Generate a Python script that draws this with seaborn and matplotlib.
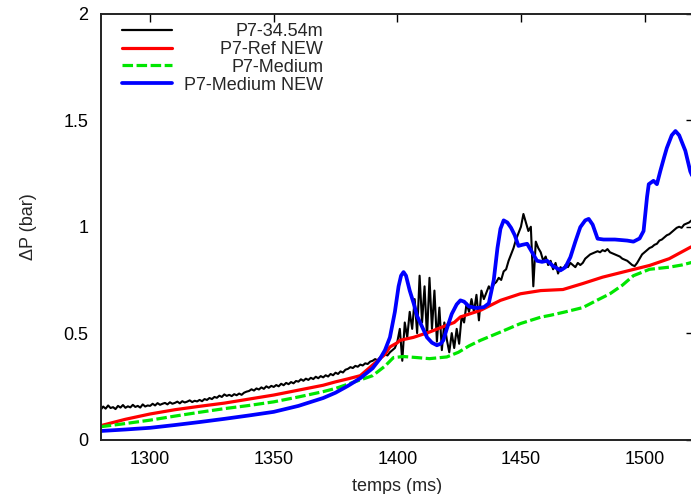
import numpy as np
import pandas as pd
import matplotlib
matplotlib.use("Agg")
import matplotlib.pyplot as plt
import seaborn as sns

# P7-34.54m (measured, 1 ms steps from 1280 to 1520)
black_t = np.arange(1280, 1521)
black_v = [
    0.14, 0.155, 0.145, 0.16, 0.148, 0.152, 0.143, 0.158, 0.15, 0.162,
    0.149, 0.156, 0.151, 0.163, 0.153, 0.158, 0.15, 0.165, 0.155, 0.16,
    0.158, 0.168, 0.16, 0.171, 0.163, 0.168, 0.172, 0.165, 0.175, 0.168,
    0.172, 0.178, 0.17, 0.18, 0.174, 0.178, 0.184, 0.176, 0.182, 0.179,
    0.186, 0.18, 0.19, 0.186, 0.195, 0.19, 0.2, 0.196, 0.206, 0.2,
    0.212, 0.205, 0.21, 0.204, 0.213, 0.208, 0.216, 0.21, 0.22, 0.225,
    0.228, 0.236, 0.23, 0.24, 0.235, 0.245, 0.238, 0.25, 0.243, 0.252,
    0.247, 0.256, 0.25, 0.262, 0.255, 0.266, 0.26, 0.27, 0.264, 0.275,
    0.272, 0.283, 0.276, 0.286, 0.28, 0.29, 0.284, 0.295, 0.288, 0.298,
    0.292, 0.302, 0.296, 0.308, 0.302, 0.314, 0.308, 0.32, 0.315, 0.328,
    0.332, 0.34, 0.336, 0.346, 0.342, 0.352, 0.348, 0.358, 0.355, 0.366,
    0.37, 0.378, 0.372, 0.386, 0.39, 0.4, 0.395, 0.41, 0.42, 0.43,
    0.46, 0.52, 0.37, 0.55, 0.48, 0.6, 0.52, 0.66, 0.5, 0.77,
    0.55, 0.72, 0.48, 0.76, 0.52, 0.7, 0.46, 0.62, 0.42, 0.55,
    0.47, 0.41, 0.5, 0.43, 0.52, 0.45, 0.58, 0.55, 0.64, 0.6,
    0.66, 0.6, 0.68, 0.56, 0.7, 0.66, 0.69, 0.72, 0.7, 0.73,
    0.74, 0.76, 0.75, 0.79, 0.8, 0.84, 0.87, 0.9, 0.94, 0.97,
    1.0, 1.06, 1.02, 0.98, 1.0, 0.72, 0.93, 0.9, 0.88, 0.84,
    0.86, 0.82, 0.84, 0.8, 0.83, 0.78, 0.81, 0.8, 0.82, 0.81,
    0.83, 0.82, 0.81, 0.83, 0.82, 0.83, 0.85, 0.86, 0.87, 0.875,
    0.88, 0.885, 0.88, 0.89, 0.885, 0.895, 0.88, 0.875, 0.87, 0.865,
    0.86, 0.85, 0.845, 0.84, 0.83, 0.82, 0.815, 0.83, 0.85, 0.87,
    0.88, 0.89, 0.9, 0.905, 0.915, 0.92, 0.935, 0.94, 0.95, 0.96,
    0.965, 0.975, 0.985, 0.995, 1.0, 0.995, 1.01, 1.015, 1.02, 1.03,
    1.035,
]

# P7-Ref NEW
red_t = [1280, 1290, 1300, 1310, 1320, 1330, 1340, 1350, 1360, 1370, 1375,
         1380, 1385, 1390, 1395, 1397, 1400, 1401, 1406.5, 1413, 1420, 1423,
         1425.5, 1433.6, 1441.7, 1449.8, 1458, 1467, 1475, 1483, 1494, 1502,
         1510, 1518.6, 1520]
red_v = [0.065, 0.095, 0.12, 0.14, 0.156, 0.171, 0.19, 0.209, 0.232, 0.255,
         0.271, 0.285, 0.30, 0.35, 0.40, 0.435, 0.455, 0.466, 0.48, 0.505,
         0.537, 0.55, 0.576, 0.607, 0.654, 0.685, 0.70, 0.705, 0.733, 0.763,
         0.795, 0.818, 0.85, 0.904, 0.91]

# P7-Medium
green_t = [1280, 1290, 1300, 1310, 1320, 1330, 1340, 1350, 1360, 1370, 1375,
           1380, 1385, 1390, 1395, 1398.4, 1402.5, 1408, 1413, 1420, 1424.7,
           1429, 1433.6, 1441.7, 1449.8, 1458, 1462, 1468, 1475, 1480, 1486,
           1491, 1495.5, 1502, 1510, 1515, 1520]
green_v = [0.06, 0.075, 0.091, 0.11, 0.128, 0.145, 0.16, 0.177, 0.2, 0.225,
           0.24, 0.26, 0.28, 0.30, 0.345, 0.385, 0.39, 0.385, 0.38, 0.388,
           0.41, 0.44, 0.466, 0.505, 0.545, 0.575, 0.584, 0.6, 0.62, 0.65,
           0.685, 0.725, 0.77, 0.80, 0.81, 0.82, 0.835]

# P7-Medium NEW
blue_t = [1280, 1290, 1300, 1310, 1320, 1330, 1340, 1350, 1360, 1370, 1375,
          1380, 1385, 1390, 1393, 1395, 1397, 1399, 1400.5, 1401.5, 1402.5,
          1403.5, 1405, 1406.6, 1408, 1410, 1412, 1414, 1416, 1417.5, 1418.6,
          1420, 1422, 1424, 1425.5, 1427, 1429, 1432, 1435, 1437, 1439,
          1440.5, 1441.7, 1443, 1444.5, 1446, 1447.5, 1449, 1450.5, 1452.5,
          1454.5, 1456.5, 1458.5, 1460.6, 1463, 1466, 1468, 1470, 1472, 1474,
          1476, 1477.4, 1479, 1481, 1483.4, 1488, 1493, 1495.5, 1498, 1499.6,
          1501, 1501.7, 1503.6, 1505, 1506.4, 1508, 1509, 1511, 1512.5, 1514,
          1516.5, 1518.5, 1520]
blue_v = [0.04, 0.047, 0.055, 0.068, 0.082, 0.097, 0.113, 0.13, 0.158, 0.195, 0.22,
          0.252, 0.288, 0.335, 0.38, 0.42, 0.48, 0.6, 0.72, 0.77, 0.787,
          0.77, 0.7, 0.64, 0.58, 0.53, 0.48, 0.455, 0.443, 0.45, 0.466,
          0.52, 0.59, 0.635, 0.654, 0.648, 0.625, 0.618, 0.622, 0.64, 0.75,
          0.9, 0.99, 1.03, 1.02, 0.995, 0.96, 0.91, 0.915, 0.92,
          0.88, 0.84, 0.835, 0.84, 0.815, 0.795, 0.81, 0.857, 0.93, 0.998,
          1.03, 1.037, 1.01, 0.944, 0.94, 0.94, 0.935, 0.93, 0.945, 0.98,
          1.14, 1.2, 1.216, 1.2, 1.263, 1.33, 1.37, 1.43, 1.45, 1.43,
          1.357, 1.26, 1.22]

x_ticks = [1300, 1350, 1400, 1450, 1500]
y_ticks = [0, 0.5, 1, 1.5, 2]
y_tick_labels = ["0", "0.5", "1", "1.5", "2"]

sns.set_style("white")
plt.rcParams["font.family"] = ["Liberation Sans", "DejaVu Sans"]
plt.rcParams["font.size"] = 13

fig = plt.figure(figsize=(6.91, 4.94), dpi=100)
ax = fig.add_axes([100.7 / 691, 54.5 / 494, 593.3 / 691, 425.5 / 494])

series = [
    ("P7-34.54m", black_t, black_v, "black", 1.5, "-"),
    ("P7-Ref NEW", red_t, red_v, "#ff0000", 2.3, "-"),
    ("P7-Medium", green_t, green_v, "#00e600", 2.3, "--"),
    ("P7-Medium NEW", blue_t, blue_v, "#0000ff", 2.7, "-"),
]
handles = []
for name, t, v, col, lw, ls in series:
    df = pd.DataFrame({"t": t, "v": v})
    sns.lineplot(data=df, x="t", y="v", ax=ax, color=col, linewidth=lw,
                 estimator=None, sort=False)
    line = ax.get_lines()[-1]
    if ls == "--":
        line.set_dashes((3.3, 1.1))
    h, = ax.plot([], [], color=col, linewidth=(1.6 if name == "P7-34.54m" else lw))
    if ls == "--":
        h.set_dashes((3.3, 1.1))
    handles.append((h, name))

ax.set_xlim(1280, 1520)
ax.set_ylim(0, 2)
ax.set_xticks(x_ticks)
ax.set_yticks(y_ticks)
ax.set_yticklabels(y_tick_labels)
ax.tick_params(direction="in", length=6, width=1, top=True, right=True,
               labelsize=13, colors="black")
ax.tick_params(axis="x", pad=8)
ax.tick_params(axis="y", pad=9)
for sp in ax.spines.values():
    sp.set_linewidth(1.4)
    sp.set_color("#222222")

ax.set_xlabel("temps (ms)", fontsize=13)
ax.set_ylabel("ΔP (bar)", fontsize=13)
ax.xaxis.set_label_coords(0.5, -0.09)
ax.yaxis.set_label_coords(-0.108, 0.5)

leg = ax.legend([h for h, _ in handles], [n for _, n in handles],
                loc="upper left", bbox_to_anchor=(21 / 593.3, 1 - 9 / 425.5),
                frameon=False, fontsize=13, handlelength=2.8,
                handletextpad=0.65, labelspacing=0.05, borderpad=0,
                borderaxespad=0)

# right-align the legend labels like the original
fig.canvas.draw()
widths = [t.get_window_extent().width for t in leg.get_texts()]
wmax = max(widths)
for t, w in zip(leg.get_texts(), widths):
    t.set_position((wmax - w, 0))

fig.savefig("out.png", dpi=100)
